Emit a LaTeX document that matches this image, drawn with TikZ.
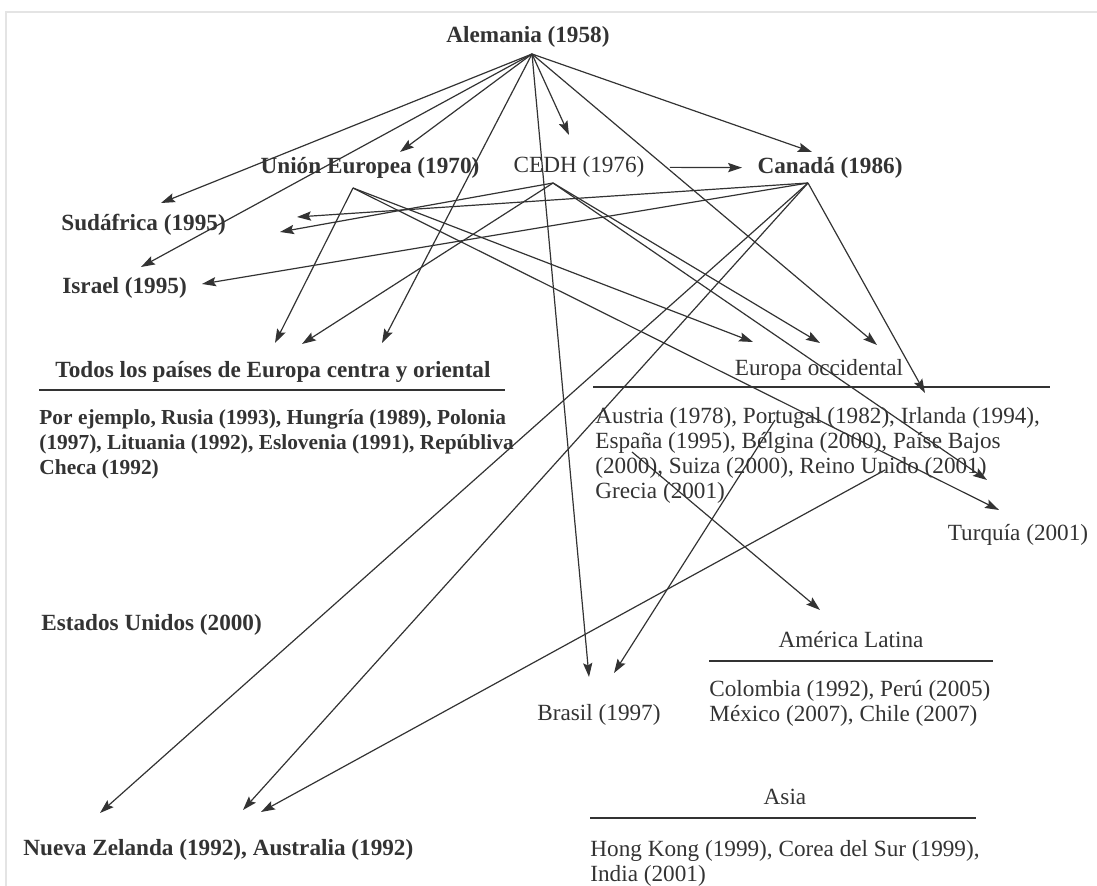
\documentclass[tikz,border=0pt]{standalone}
\usepackage{fontspec}
\setmainfont{Liberation Serif}
\usetikzlibrary{arrows.meta}
\definecolor{ink}{HTML}{333333}
\definecolor{scanframe}{HTML}{E4E4E4}
\tikzset{
  lbl/.style={inner sep=0pt, text=ink, font=\fontsize{11.6}{12.5}\selectfont\bfseries},
  lbr/.style={inner sep=0pt, text=ink, font=\fontsize{11.6}{12.5}\selectfont},
  arr/.style={draw=ink, line width=0.6pt, -{Stealth[length=7pt,width=4.6pt,inset=1.2pt]}},
  rule/.style={draw=ink, line width=0.9pt}
}
\begin{document}
\begin{tikzpicture}[x=0.5pt, y=-0.5pt]
    \useasboundingbox (0,0) rectangle (1097,886);
    \draw[scanframe, line width=0.8pt] (6,886) -- (6,12) -- (1097,12);

    \node[lbl] (ale) at (528,37) {Alemania (1958)};
    \node[lbl] (ue) at (370,168) {Unión Europea (1970)};
    \node[lbr] (cedh) at (579,167) {CEDH (1976)};
    \node[lbl] (can) at (830,168) {Canadá (1986)};
    \node[lbl, anchor=west] (sud) at (61,225) {Sudáfrica (1995)};
    \node[lbl, anchor=west] (isr) at (62,288) {Israel (1995)};
    \node[lbl] (tod) at (273,372) {Todos los países de Europa centra y oriental};
    \node[lbl, font=\fontsize{10.7}{12.5}\selectfont\bfseries, anchor=north west, align=left] (todx) at (39,409) {Por ejemplo, Rusia (1993), Hungría (1989), Polonia\\(1997), Lituania (1992), Eslovenia (1991), Repúbliva\\Checa (1992)};
    \node[lbr] (eo) at (819,370) {Europa occidental};
    \node[lbr, anchor=north west, align=left] (eox) at (595,407) {Austria (1978), Portugal (1982), Irlanda (1994),\\España (1995), Bélgina (2000), Paíse Bajos\\(2000), Suiza (2000), Reino Unido (2001)\\Grecia (2001)};
    \node[lbr] (tur) at (1018,535) {Turquía (2001)};
    \node[lbl, anchor=west] (eeuu) at (41,625) {Estados Unidos (2000)};
    \node[lbr] (bra) at (599,715) {Brasil (1997)};
    \node[lbr] (al) at (851,640) {América Latina};
    \node[lbr, anchor=north west, align=left] (alx) at (709,680) {Colombia (1992), Perú (2005)\\México (2007), Chile (2007)};
    \node[lbr] (asia) at (785,797) {Asia};
    \node[lbr, anchor=north west, align=left] (asiax) at (590,840) {Hong Kong (1999), Corea del Sur (1999),\\India (2001)};
    \node[lbl, anchor=west] (nz) at (23,850) {Nueva Zelanda (1992), Australia (1992)};

    \draw[rule] (39,390) -- (505,390);
    \draw[rule] (593,387) -- (1050,387);
    \draw[rule] (709,661) -- (993,661);
    \draw[rule] (590,818) -- (976,818);

    \coordinate (aleP) at (532,54);
    \coordinate (ueP) at (353,188);
    \coordinate (cedhP) at (553,183);
    \coordinate (canP) at (808,183);
    \coordinate (porP) at (775,420);
    \coordinate (espP) at (632,452);
    \coordinate (reiP) at (885,470);

    \coordinate (sud1) at (161,203);
    \coordinate (sud2) at (297,217);
    \coordinate (sud3) at (280,232);
    \coordinate (isr1) at (141,267);
    \coordinate (isr2) at (202,284);
    \coordinate (uein) at (400,152);
    \coordinate (cedhin) at (569,135);
    \coordinate (canin) at (812,152);
    \coordinate (tod1) at (275,343);
    \coordinate (tod2) at (302,344);
    \coordinate (tod3) at (382,343);
    \coordinate (eo1) at (753,342);
    \coordinate (eo2) at (820,343);
    \coordinate (eo3) at (877,345);
    \coordinate (eo4) at (925,393);
    \coordinate (tur1) at (987,480);
    \coordinate (tur2) at (999,510);
    \coordinate (bra1) at (589,677);
    \coordinate (bra2) at (614,673);
    \coordinate (al1) at (820,610);
    \coordinate (nz1) at (100,813);
    \coordinate (au1) at (243,810);
    \coordinate (au2) at (261,812);

    \foreach \t in {sud1,isr1,uein,tod3,bra1,cedhin,eo3,canin}
        \draw[arr] (aleP) -- (\t);
    \foreach \t in {tod1,eo1,tur2}
        \draw[arr] (ueP) -- (\t);
    \foreach \t in {sud3,tod2,eo2,tur1}
        \draw[arr] (cedhP) -- (\t);
    \foreach \t in {sud2,isr2,eo4,nz1,au1}
        \draw[arr] (canP) -- (\t);
    \draw[arr] (porP) -- (bra2);
    \draw[arr] (espP) -- (al1);
    \draw[arr] (reiP) -- (au2);
    \draw[arr, shorten <=12.5pt, shorten >=7.5pt] (cedh) -- (can);
\end{tikzpicture}
\end{document}
